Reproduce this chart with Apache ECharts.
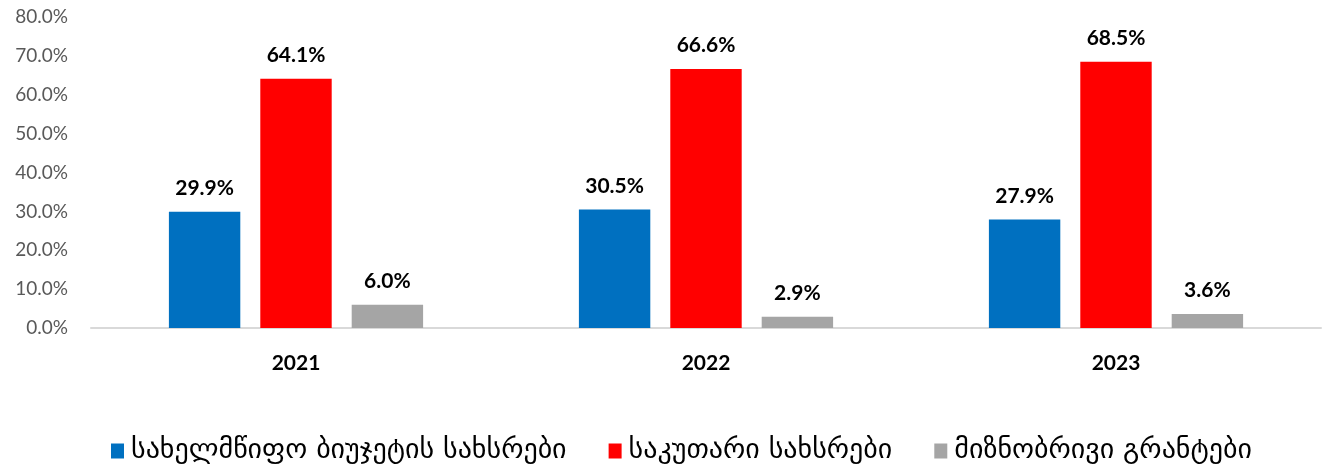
<!DOCTYPE html>
<html><head><meta charset="utf-8">
<script src="https://cdn.jsdelivr.net/npm/echarts@6/dist/echarts.min.js"></script>
<style>html,body{margin:0;padding:0;background:#fff}#c{width:1322px;height:466px}</style>
</head><body><div id="c"></div>
<script>
const categories = ['2021', '2022', '2023'];
const seriesNames = ['სახელმწიფო ბიუჯეტის სახსრები', 'საკუთარი სახსრები', 'მიზნობრივი გრანტები'];
const stateBudget = [29.9, 30.5, 27.9];
const ownFunds = [64.1, 66.6, 68.5];
const targetGrants = [6.0, 2.9, 3.6];
const colors = ['#0070c0', '#ff0000', '#a5a5a5'];

const chart = echarts.init(document.getElementById('c'));
const labelCfg = {
  show: true, position: 'top', distance: 13,
  formatter: p => p.value.toFixed(1) + '%',
  fontFamily: 'Lato', fontWeight: 'bold', fontSize: 21, color: '#000'
};
function mk(name, data, color) {
  return { name, type: 'bar', data, itemStyle: { color }, barGap: '28%', barCategoryGap: '38%', label: labelCfg };
}
chart.setOption({
  animation: false,
  grid: { left: 91, right: 1, top: 17, bottom: 138, containLabel: false },
  legend: {
    top: 432, left: 106, itemWidth: 13, itemHeight: 15, itemGap: 42,
    icon: 'rect',
    textStyle: { fontFamily: 'DejaVu Sans', fontSize: 28, color: '#000', padding: [0, 0, 0, 2] },
    data: seriesNames
  },
  xAxis: {
    type: 'category', data: categories,
    axisLine: { lineStyle: { color: '#d9d9d9', width: 2 } },
    axisTick: { show: false },
    axisLabel: { fontFamily: 'Lato', fontWeight: 'bold', fontSize: 21, color: '#000', margin: 25 }
  },
  yAxis: {
    type: 'value', min: 0, max: 80, interval: 10,
    splitLine: { show: false },
    axisLine: { show: false }, axisTick: { show: false },
    axisLabel: { formatter: v => v.toFixed(1) + '%', fontFamily: 'Lato', fontSize: 19, color: '#595959', margin: 23 }
  },
  series: [
    mk(seriesNames[0], stateBudget, colors[0]),
    mk(seriesNames[1], ownFunds, colors[1]),
    mk(seriesNames[2], targetGrants, colors[2])
  ]
});
</script></body></html>
